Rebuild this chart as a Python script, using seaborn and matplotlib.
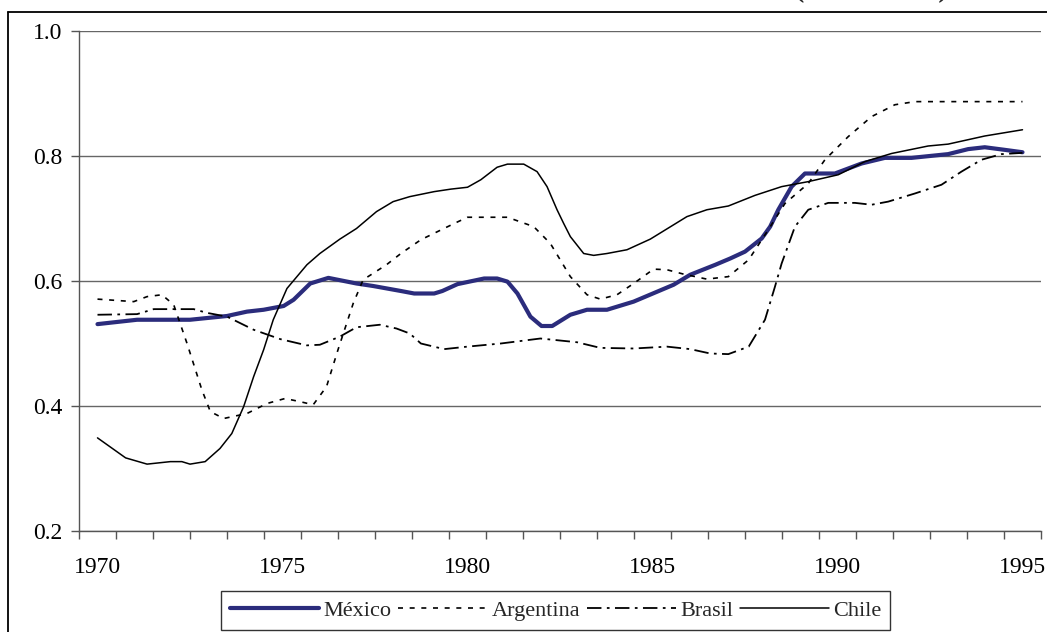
import matplotlib
matplotlib.use("Agg")
import matplotlib.pyplot as plt
from matplotlib.lines import Line2D
from matplotlib.ticker import MultipleLocator, FixedLocator
import seaborn as sns


# -------------------------------------------------------------------------------------------
# Data

mexico_x = [1970, 1971.07, 1972.5, 1973.5, 1974.04, 1974.49, 1975.03, 1975.3, 1975.75,
            1976.24, 1977.0, 1977.45, 1978.2, 1978.56, 1979.1, 1979.32, 1979.73, 1980.45,
            1980.8, 1981.08, 1981.35, 1981.7, 1982.0, 1982.29, 1982.78, 1983.23, 1983.77,
            1984.49, 1985.57, 1986.02, 1986.7, 1987.1, 1987.5, 1987.95, 1988.18, 1988.4,
            1988.76, 1989.12, 1989.93, 1990.65, 1991.28, 1992.0, 1992.99, 1993.53, 1993.98,
            1994.5, 1995.0]
mexico_y = [0.531, 0.538, 0.538, 0.544, 0.551, 0.554, 0.560, 0.570, 0.596,
            0.605, 0.596, 0.592, 0.584, 0.580, 0.580, 0.584, 0.595, 0.604,
            0.604, 0.599, 0.580, 0.543, 0.528, 0.528, 0.546, 0.554, 0.554,
            0.567, 0.594, 0.610, 0.626, 0.636, 0.647, 0.668, 0.687, 0.714,
            0.751, 0.772, 0.772, 0.788, 0.797, 0.797, 0.803, 0.811, 0.814,
            0.810, 0.806]

argentina_x = [1970, 1970.98, 1971.34, 1971.74, 1972.06, 1972.42, 1972.82, 1973.05, 1973.41,
               1974.04, 1974.58, 1975.07, 1975.47, 1975.83, 1976.19, 1976.5, 1976.91, 1977.18,
               1977.81, 1978.2, 1978.74, 1979.64, 1980.0, 1981.08, 1981.79, 1982.24, 1982.78,
               1983.23, 1983.59, 1984.04, 1984.49, 1985.03, 1985.39, 1985.84, 1986.47, 1987.05,
               1987.6, 1988.13, 1988.58, 1989.21, 1989.66, 1990.29, 1990.92, 1991.55, 1992.09,
               1995.0]
argentina_y = [0.571, 0.567, 0.575, 0.578, 0.562, 0.500, 0.426, 0.391, 0.380,
               0.388, 0.404, 0.412, 0.407, 0.402, 0.431, 0.490, 0.564, 0.602,
               0.626, 0.644, 0.666, 0.692, 0.702, 0.702, 0.687, 0.660, 0.607,
               0.578, 0.571, 0.578, 0.596, 0.619, 0.618, 0.611, 0.603, 0.607,
               0.634, 0.682, 0.724, 0.756, 0.794, 0.831, 0.863, 0.882, 0.887,
               0.887]

brasil_x = [1970, 1971.07, 1971.52, 1972.6, 1972.96, 1973.5, 1974.22, 1974.94, 1975.66,
            1976.01, 1976.55, 1977.0, 1977.63, 1978.08, 1978.44, 1978.74, 1979.37, 1980.0,
            1980.9, 1981.97, 1982.96, 1983.59, 1984.49, 1985.39, 1986.02, 1986.56, 1987.05,
            1987.6, 1988.04, 1988.31, 1988.49, 1988.85, 1989.21, 1989.75, 1990.47, 1990.92,
            1991.37, 1992.09, 1992.81, 1993.35, 1993.89, 1994.43, 1995.0]
brasil_y = [0.546, 0.547, 0.555, 0.555, 0.549, 0.543, 0.522, 0.507, 0.497,
            0.498, 0.511, 0.526, 0.530, 0.524, 0.516, 0.500, 0.491, 0.495,
            0.500, 0.508, 0.502, 0.493, 0.492, 0.495, 0.491, 0.484, 0.483,
            0.495, 0.538, 0.591, 0.628, 0.687, 0.714, 0.725, 0.725, 0.722,
            0.727, 0.740, 0.754, 0.775, 0.794, 0.803, 0.805]

chile_x = [1970, 1970.76, 1971.34, 1971.97, 1972.28, 1972.5, 1972.91, 1973.31, 1973.63,
           1973.95, 1974.22, 1974.49, 1974.75, 1975.12, 1975.66, 1976.01, 1976.55, 1977.0,
           1977.54, 1977.99, 1978.44, 1979.1, 1979.55, 1980.0, 1980.36, 1980.8, 1981.08,
           1981.52, 1981.88, 1982.15, 1982.42, 1982.6, 1982.78, 1983.14, 1983.41, 1983.77,
           1984.31, 1984.94, 1985.93, 1986.47, 1987.05, 1987.77, 1988.49, 1989.21, 1990.02,
           1990.74, 1991.46, 1992.45, 1992.99, 1993.98, 1995.0]
chile_y = [0.349, 0.317, 0.307, 0.311, 0.311, 0.307, 0.311, 0.332, 0.356,
           0.399, 0.447, 0.490, 0.538, 0.588, 0.626, 0.644, 0.667, 0.684,
           0.711, 0.727, 0.735, 0.743, 0.747, 0.750, 0.762, 0.782, 0.787,
           0.787, 0.775, 0.751, 0.714, 0.692, 0.671, 0.644, 0.641, 0.644,
           0.650, 0.667, 0.703, 0.714, 0.720, 0.737, 0.751, 0.759, 0.770,
           0.791, 0.804, 0.816, 0.819, 0.832, 0.842]

year_labels = [1970, 1975, 1980, 1985, 1990, 1995]


# -------------------------------------------------------------------------------------------
# Style

sns.set_style("white")
plt.rcParams["font.family"] = ["Liberation Serif", "DejaVu Serif"]

fig = plt.figure(figsize=(10.47, 6.32), dpi=100)
ax = fig.add_axes([79 / 1047, 1 - 531 / 632, (1041 - 79) / 1047, 500 / 632])


# -------------------------------------------------------------------------------------------
# Lines

sns.lineplot(x=mexico_x, y=mexico_y, ax=ax, color="#2B2C7C", linewidth=3.0,
             estimator=None, sort=False, label="México")
sns.lineplot(x=argentina_x, y=argentina_y, ax=ax, color="black", linewidth=1.2,
             linestyle=(0, (3, 4)), estimator=None, sort=False, label="Argentina")
sns.lineplot(x=brasil_x, y=brasil_y, ax=ax, color="black", linewidth=1.3,
             linestyle=(0, (8, 3, 1.5, 3)), estimator=None, sort=False, label="Brasil")
sns.lineplot(x=chile_x, y=chile_y, ax=ax, color="black", linewidth=1.1,
             estimator=None, sort=False, label="Chile")

handles, labels = ax.get_legend_handles_labels()
ax.get_legend().remove()


# -------------------------------------------------------------------------------------------
# Axes

ax.set_xlim(1969.5, 1995.5)
ax.set_ylim(0.2, 1.0)

ax.xaxis.set_major_locator(FixedLocator(year_labels))
ax.set_xticklabels([str(y) for y in year_labels])
ax.xaxis.set_minor_locator(FixedLocator([1969.5 + k for k in range(27)]))
ax.tick_params(axis="x", which="major", length=0, pad=19, labelsize=17, labelcolor="black")
ax.tick_params(axis="x", which="minor", length=6, width=1, color="#555555", direction="out",
               bottom=True)

ax.yaxis.set_major_locator(MultipleLocator(0.2))
ax.yaxis.set_major_formatter(matplotlib.ticker.FormatStrFormatter("%.1f"))
ax.tick_params(axis="y", which="major", length=6, width=1, color="#555555", direction="out",
               left=True, pad=6, labelsize=17, labelcolor="black")

ax.yaxis.grid(True, color="#666666", linewidth=1.0)
ax.xaxis.grid(False)
ygrid = ax.get_ygridlines()
ygrid[-1].set_color("#eeeeee")

for side in ["top", "right"]:
    ax.spines[side].set_visible(False)
for side in ["left", "bottom"]:
    ax.spines[side].set_color("#555555")
    ax.spines[side].set_linewidth(1.0)

ax.set_xlabel("")
ax.set_ylabel("")


# -------------------------------------------------------------------------------------------
# Legend, frame and clipped title

leg = fig.legend(handles, labels, loc="center", bbox_to_anchor=(0.531, 0.034), ncol=4,
                 frameon=True, fancybox=False, edgecolor="black", fontsize=16,
                 handlelength=4.0, handletextpad=0.2, columnspacing=0.3, borderpad=0.4)
leg.get_frame().set_linewidth(1.0)

fig.add_artist(Line2D([8 / 1047, 1], [1 - 12 / 632, 1 - 12 / 632],
                      transform=fig.transFigure, color="black", linewidth=1.3))
fig.add_artist(Line2D([8 / 1047, 8 / 1047], [0, 1 - 12 / 632],
                      transform=fig.transFigure, color="black", linewidth=1.3))

fig.text(871 / 1047, 1 + 3 / 632, "(1970 - 1995)", ha="center", va="baseline",
         fontsize=20, fontweight="bold")

fig.savefig("out.png", dpi=100)
